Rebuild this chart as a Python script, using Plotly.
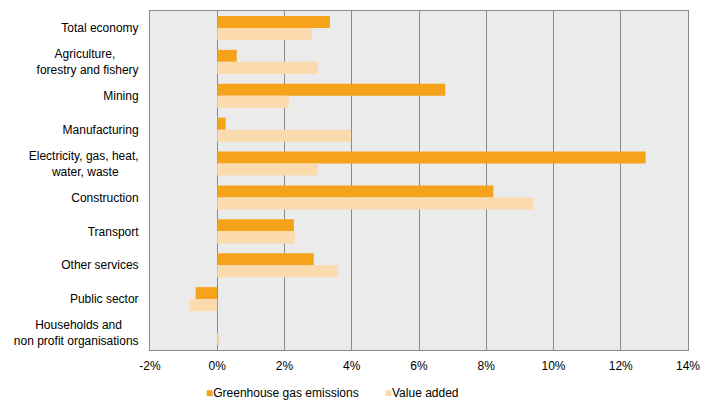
import plotly.graph_objects as go

NB = "\u00a0"
categories = [
    "Total economy",
    "Agriculture," + NB * 7 + "<br>forestry and fishery",
    "Mining",
    "Manufacturing",
    "Electricity, gas, heat,<br>water, waste" + NB * 6,
    "Construction",
    "Transport",
    "Other services",
    "Public sector",
    "Households and" + NB * 5 + "<br>non profit organisations",
]
ghg = [3.35, 0.58, 6.78, 0.25, 12.74, 8.21, 2.28, 2.87, -0.64, 0.0]
value_added = [2.82, 2.99, 2.13, 3.98, 2.99, 9.40, 2.31, 3.59, -0.82, 0.07]
x_ticks = [-2, 0, 2, 4, 6, 8, 10, 12, 14]
x_tick_labels = ["-2%", "0%", "2%", "4%", "6%", "8%", "10%", "12%", "14%"]
series_names = ["Greenhouse gas emissions", "Value added"]

GHG_COLOR = "#F5A31A"
VA_COLOR = "#FBDBAE"

fig = go.Figure()
fig.add_trace(go.Bar(y=categories, x=ghg, orientation="h", name=series_names[0],
                     marker=dict(color=GHG_COLOR, line=dict(width=0)), showlegend=False))
fig.add_trace(go.Bar(y=categories, x=value_added, orientation="h", name=series_names[1],
                     marker=dict(color=VA_COLOR, line=dict(width=0)), showlegend=False))
# legend-only entries: small coloured square glyph placed right before the text
for nm, col, lg in [(series_names[0], GHG_COLOR, "legend"), (series_names[1], VA_COLOR, "legend2")]:
    fig.add_trace(go.Scatter(x=[None], y=[None], mode="markers",
                             name=f"<span style='color:{col}'>■</span>{nm}",
                             marker=dict(symbol="square", size=1, color="rgba(0,0,0,0)"),
                             legend=lg))

legend_common = dict(orientation="h", xanchor="left", yref="container", y=0.046,
                     yanchor="middle", font=dict(size=12), itemwidth=30,
                     bgcolor="rgba(0,0,0,0)")

fig.update_layout(
    width=712, height=411,
    margin=dict(l=150, r=24, t=11, b=61, autoexpand=False),
    paper_bgcolor="white",
    plot_bgcolor="#EBEBEB",
    barmode="group",
    bargap=0.29,
    bargroupgap=0,
    font=dict(family="Liberation Sans, Arial, sans-serif", size=12, color="#000000"),
    showlegend=True,
    legend=dict(x=0.0297, **legend_common),
    legend2=dict(x=0.362, **legend_common),
    xaxis=dict(range=[-2, 14], tickvals=x_ticks, ticktext=x_tick_labels,
               showgrid=True, gridcolor="#8A8A8A", gridwidth=1,
               zeroline=True, zerolinecolor="#8A8A8A", zerolinewidth=1,
               showline=True, linecolor="#8A8A8A", linewidth=1, mirror=True,
               ticks="", tickfont=dict(size=12), ticklabelstandoff=5, automargin=False),
    yaxis=dict(autorange="reversed", showgrid=False, zeroline=False,
               showline=True, linecolor="#8A8A8A", linewidth=1, mirror=True,
               ticks="", tickfont=dict(size=12), ticklabelstandoff=8, automargin=False),
)

fig.write_html("out.html", config={"displayModeBar": False},
               post_script="document.body.style.margin='0';")
